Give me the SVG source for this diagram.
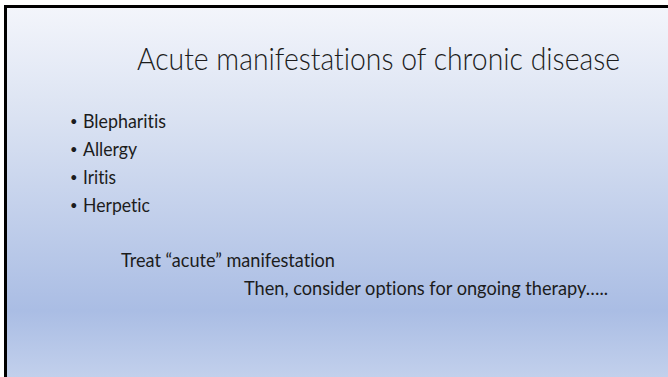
<svg xmlns="http://www.w3.org/2000/svg" width="668" height="377" viewBox="0 0 668 377">
  <defs>
    <linearGradient id="bg" x1="0" y1="0" x2="0" y2="1">
      <stop offset="0" stop-color="#F3F5FB"/>
      <stop offset="0.3" stop-color="#DAE2F2"/>
      <stop offset="0.82" stop-color="#AABDE4"/>
      <stop offset="1" stop-color="#C2D0EC"/>
    </linearGradient>
    <style>
      .t { font-family: Lato, "Open Sans", "Liberation Sans", sans-serif; fill: #1c1c1c; font-variant-ligatures: none; font-feature-settings: "liga" 0, "clig" 0; }
      .title { font-size: 31px; font-weight: 300; }
      .body { font-size: 19px; }
      .dot { font-size: 13px; }
    </style>
  </defs>
  <rect x="0" y="0" width="668" height="377" fill="#FFFFFF"/>
  <rect x="7" y="8" width="661" height="369" fill="url(#bg)"/>
  <rect x="4" y="5" width="664" height="3" fill="#000000"/>
  <rect x="4" y="5" width="3" height="372" fill="#000000"/>

  <g id="title">
    <text class="t title" x="137" y="70" textLength="483" lengthAdjust="spacingAndGlyphs">Acute manifestations of chronic disease</text>
  </g>
  <g id="bullets">
    <text class="t dot" x="70" y="126">•</text>
    <text class="t body" x="83" y="128" textLength="83" lengthAdjust="spacingAndGlyphs">Blepharitis</text>
    <text class="t dot" x="70" y="154">•</text>
    <text class="t body" x="83" y="156" textLength="54" lengthAdjust="spacingAndGlyphs">Allergy</text>
    <text class="t dot" x="70" y="182">•</text>
    <text class="t body" x="83" y="184" textLength="33" lengthAdjust="spacingAndGlyphs">Iritis</text>
    <text class="t dot" x="70" y="210">•</text>
    <text class="t body" x="83" y="212" textLength="67" lengthAdjust="spacingAndGlyphs">Herpetic</text>
  </g>
  <g id="notes">
    <text class="t body" x="121" y="267" textLength="214" lengthAdjust="spacingAndGlyphs">Treat “acute” manifestation</text>
    <text class="t body" x="244" y="295" textLength="364" lengthAdjust="spacingAndGlyphs">Then, consider options for ongoing therapy…..</text>
  </g>
</svg>
